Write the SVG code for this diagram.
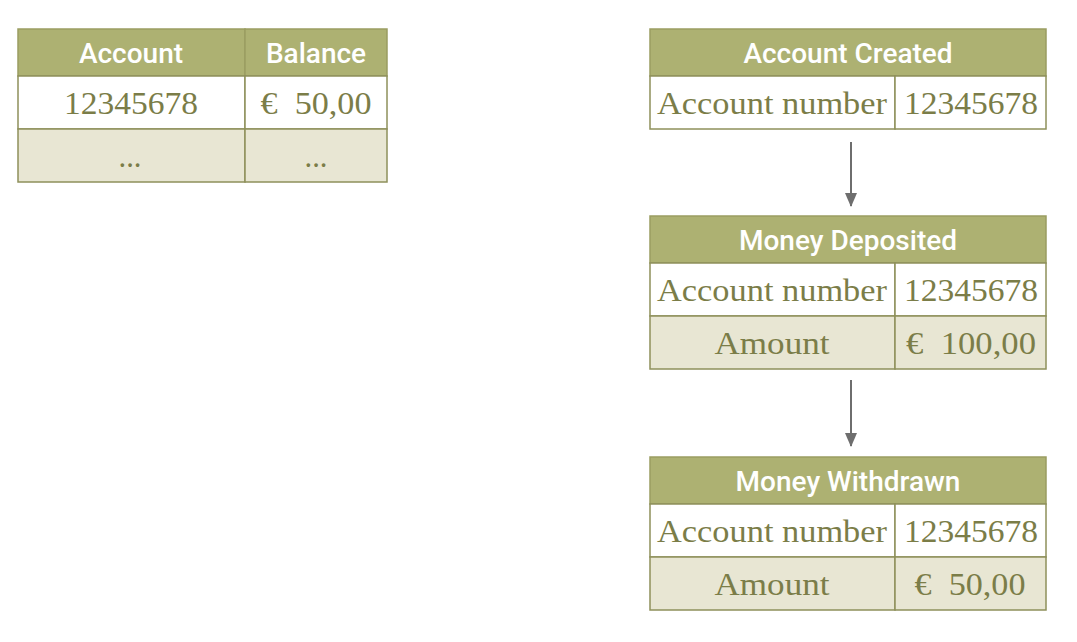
<svg xmlns="http://www.w3.org/2000/svg" width="1077" height="642" viewBox="0 0 1077 642">
<defs>
<style>
.hdr{fill:#adb172;stroke:#9a9d62;stroke-width:1.5}
.w{fill:#ffffff;stroke:#8e905b;stroke-width:1.5}
.l{fill:#e8e6d3;stroke:#8e905b;stroke-width:1.5}
.ht{font-family:Roboto,"Liberation Sans",sans-serif;font-weight:500;font-size:28px;fill:#ffffff;text-anchor:middle}
.bt{font-family:"Liberation Serif","DejaVu Serif",serif;font-size:31px;fill:#7b7d48;text-anchor:middle;white-space:pre}
.conn{stroke:#6e6e6e;stroke-width:2;fill:none}
</style>
<marker id="ah" viewBox="0 0 14 12" refX="13" refY="6" markerWidth="14" markerHeight="12" markerUnits="userSpaceOnUse" orient="auto">
<path d="M0,0 L14,6 L0,12 z" fill="#6e6e6e"/>
</marker>
</defs>
<rect width="1077" height="642" fill="#ffffff"/>

<g id="accountTable">
<rect class="hdr" x="18" y="29" width="227" height="47"/>
<rect class="hdr" x="245" y="29" width="142" height="47"/>
<rect class="w" x="18" y="76" width="227" height="53"/>
<rect class="w" x="245" y="76" width="142" height="53"/>
<rect class="l" x="18" y="129" width="227" height="53"/>
<rect class="l" x="245" y="129" width="142" height="53"/>
<text class="ht" x="131" y="63">Account</text>
<text class="ht" x="316" y="63">Balance</text>
<text class="bt" x="131" y="114" textLength="134" lengthAdjust="spacingAndGlyphs">12345678</text>
<text class="bt" x="316" y="114" textLength="111" lengthAdjust="spacingAndGlyphs" xml:space="preserve">€  50,00</text>
<text class="bt" x="130" y="167" textLength="23" lengthAdjust="spacingAndGlyphs">...</text>
<text class="bt" x="316" y="167" textLength="23" lengthAdjust="spacingAndGlyphs">...</text>
</g>

<g id="accountCreated">
<rect class="hdr" x="650" y="29" width="396" height="47"/>
<rect class="w" x="650" y="76" width="245" height="53"/>
<rect class="w" x="895" y="76" width="151" height="53"/>
<text class="ht" x="848" y="63">Account Created</text>
<text class="bt" x="772" y="114" textLength="230" lengthAdjust="spacingAndGlyphs">Account number</text>
<text class="bt" x="971" y="114" textLength="134" lengthAdjust="spacingAndGlyphs">12345678</text>
</g>

<g id="moneyDeposited">
<rect class="hdr" x="650" y="216" width="396" height="47"/>
<rect class="w" x="650" y="263" width="245" height="53"/>
<rect class="w" x="895" y="263" width="151" height="53"/>
<rect class="l" x="650" y="316" width="245" height="53"/>
<rect class="l" x="895" y="316" width="151" height="53"/>
<text class="ht" x="848" y="250">Money Deposited</text>
<text class="bt" x="772" y="301" textLength="230" lengthAdjust="spacingAndGlyphs">Account number</text>
<text class="bt" x="971" y="301" textLength="134" lengthAdjust="spacingAndGlyphs">12345678</text>
<text class="bt" x="772" y="354" textLength="115" lengthAdjust="spacingAndGlyphs">Amount</text>
<text class="bt" x="971" y="354" textLength="130" lengthAdjust="spacingAndGlyphs" xml:space="preserve">€  100,00</text>
</g>

<g id="moneyWithdrawn">
<rect class="hdr" x="650" y="457" width="396" height="47"/>
<rect class="w" x="650" y="504" width="245" height="53"/>
<rect class="w" x="895" y="504" width="151" height="53"/>
<rect class="l" x="650" y="557" width="245" height="53"/>
<rect class="l" x="895" y="557" width="151" height="53"/>
<text class="ht" x="848" y="491">Money Withdrawn</text>
<text class="bt" x="772" y="542" textLength="230" lengthAdjust="spacingAndGlyphs">Account number</text>
<text class="bt" x="971" y="542" textLength="134" lengthAdjust="spacingAndGlyphs">12345678</text>
<text class="bt" x="772" y="595" textLength="115" lengthAdjust="spacingAndGlyphs">Amount</text>
<text class="bt" x="970" y="595" textLength="111" lengthAdjust="spacingAndGlyphs" xml:space="preserve">€  50,00</text>
</g>

<g id="connectors">
<line class="conn" x1="851" y1="142" x2="851" y2="206" marker-end="url(#ah)"/>
<line class="conn" x1="851" y1="380" x2="851" y2="446" marker-end="url(#ah)"/>
</g>
</svg>
